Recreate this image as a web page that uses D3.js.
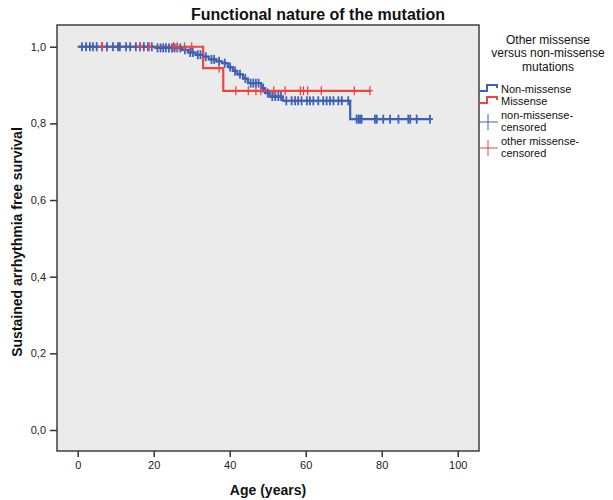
<!DOCTYPE html>
<html><head><meta charset="utf-8">
<script src="https://cdn.jsdelivr.net/npm/d3@7"></script>
<style>body{margin:0;background:#fff;} svg{display:block;font-family:Arial,"Liberation Sans",sans-serif;}</style>
</head><body>
<svg id="chart" width="613" height="500"></svg>
<script>
// ---- data ----
const xTicks = [0, 20, 40, 60, 80, 100];
const yTicks = [0, 0.2, 0.4, 0.6, 0.8, 1.0];
// Non-missense KM step curve: event ages and survival after each step
const blueAges = [0, 20.5, 27.5, 29, 31, 33, 34.5, 36.5, 38, 39.5, 40.8, 42, 43.5, 44.8, 48.3, 49.3, 50.5, 54, 71.7];
const blueSurv = [1.0, 0.997, 0.992, 0.985, 0.979, 0.974, 0.967, 0.962, 0.957, 0.947, 0.937, 0.928, 0.917, 0.905, 0.892, 0.879, 0.870, 0.859, 0.811];
const blueEnd = 92.7;
const blueCensored = [1.1, 2.2, 3.2, 4.0, 5.0, 6.4, 7.7, 9.3, 10.6, 11.1, 12.7, 13.8, 15.3, 16.4, 17.4, 18.5, 19.5,
  21, 21.8, 22.5, 23.2, 24, 24.8, 25.5, 26.2, 27, 28.2, 29.6, 30.3, 31.6, 32.3, 33.7, 35.2, 35.9, 37.2, 38.7, 40.1,
  41.4, 42.7, 44.1, 45.5, 46.2, 46.9, 47.6, 48.8, 50, 51.2, 52, 52.8, 53.5,
  54.9, 56.3, 57.2, 58, 58.9, 60.3, 61.1, 62, 63.3, 64.6, 65.5, 66.4, 67.3, 68.6, 69.5, 71.2,
  73.4, 73.9, 74.3, 74.7, 78.2, 78.7, 80.4, 82.2, 84.4, 87, 87.5, 89.2, 92.7];
// Missense
const redAges = [0, 33, 38.3];
const redSurv = [1.0, 0.944, 0.885];
const redEnd = 77;
const redCensored = [6.5, 16.4, 18.8, 25.2, 26.2, 28.1, 30, 37.2, 41.6, 44.9, 46.9, 48.2, 51.6, 54.6, 58.6, 59.4, 60.5, 64.1, 72.8, 76.9];

const legendTitle = ["Other missense", "versus non-missense", "mutations"];
const legendItems = [
  {type: "step", color: "#3d61b6", lines: ["Non-missense"]},
  {type: "step", color: "#ef4444", lines: ["Missense"]},
  {type: "plus", color: "#3d61b6", lines: ["non-missense-", "censored"]},
  {type: "plus", color: "#ef4444", lines: ["other missense-", "censored"]}
];

// ---- layout ----
const svg = d3.select("#chart");
const L = 57, R = 479, T = 25, B = 451;
const x = d3.scaleLinear().domain([-5.45, 105.6]).range([L, R]);
const y = d3.scaleLinear().domain([-0.0548, 1.0567]).range([B, T]);

svg.append("rect").attr("x", L).attr("y", T).attr("width", R - L).attr("height", B - T)
  .attr("fill", "#ebebeb").attr("stroke", "#3f3f3f").attr("stroke-width", 1.5);

// axes
const xAxis = d3.axisBottom(x).tickValues(xTicks).tickSize(6).tickSizeOuter(0).tickFormat(d3.format("d"));
const gx = svg.append("g").attr("transform", `translate(0,${B})`).call(xAxis);
gx.select(".domain").remove();
gx.selectAll(".tick line").attr("stroke", "#333").attr("stroke-width", 1.5);
gx.selectAll(".tick text").attr("font-size", 11).attr("fill", "#222").attr("font-family", "Arial, 'Liberation Sans', sans-serif").attr("dy", "0.85em");

const yAxis = d3.axisLeft(y).tickValues(yTicks).tickSize(7).tickSizeOuter(0).tickFormat(d => d3.format(".1f")(d).replace(".", ","));
const gy = svg.append("g").attr("transform", `translate(${L},0)`).call(yAxis);
gy.select(".domain").remove();
gy.selectAll(".tick line").attr("stroke", "#333").attr("stroke-width", 1.5);
gy.selectAll(".tick text").attr("font-size", 11).attr("fill", "#222").attr("font-family", "Arial, 'Liberation Sans', sans-serif").attr("dx", "-1");

// step curves
function stepPoints(ages, surv, end) {
  const pts = ages.map((a, i) => [a, surv[i]]);
  pts.push([end, surv[surv.length - 1]]);
  return pts;
}
function survAt(ages, surv, t) {
  let s = surv[0];
  for (let i = 0; i < ages.length; i++) if (ages[i] <= t) s = surv[i];
  return s;
}
const line = d3.line().x(d => x(d[0])).y(d => y(d[1])).curve(d3.curveStepAfter);
const blueColor = "#3d61b6", redColor = "#ef4444";

svg.append("path").datum(stepPoints(blueAges, blueSurv, blueEnd)).attr("d", line)
  .attr("fill", "none").attr("stroke", blueColor).attr("stroke-width", 2.2);
svg.append("path").datum(stepPoints(redAges, redSurv, redEnd)).attr("d", line)
  .attr("fill", "none").attr("stroke", redColor).attr("stroke-width", 2.2);

function censorMarks(ages, surv, list, color, w) {
  const g = svg.append("g").attr("stroke", color).attr("stroke-width", w);
  list.forEach(t => {
    const cx = x(t), cy = y(survAt(ages, surv, t));
    g.append("line").attr("x1", cx).attr("x2", cx).attr("y1", cy - 4.5).attr("y2", cy + 4.5);
    g.append("line").attr("x1", cx - 3).attr("x2", cx + 3).attr("y1", cy).attr("y2", cy);
  });
}
censorMarks(blueAges, blueSurv, blueCensored, blueColor, 1.8);
censorMarks(redAges, redSurv, redCensored, redColor, 1.3);

// titles
svg.append("text").attr("x", 318).attr("y", 20).attr("text-anchor", "middle")
  .attr("font-size", 16).attr("font-weight", "bold").attr("fill", "#111").text("Functional nature of the mutation");
svg.append("text").attr("x", (L + R) / 2).attr("y", 495).attr("text-anchor", "middle")
  .attr("font-size", 14).attr("font-weight", "bold").attr("fill", "#111").text("Age (years)");
svg.append("text").attr("transform", `translate(22,${(120 + 364) / 2}) rotate(-90)`).attr("text-anchor", "middle")
  .attr("font-size", 14).attr("font-weight", "bold").attr("fill", "#111").text("Sustained arrhythmia free survival");

// legend
const lg = svg.append("g");
legendTitle.forEach((t, i) => {
  lg.append("text").attr("x", 548).attr("y", 44 + i * 13.3).attr("text-anchor", "middle")
    .attr("font-size", 12).attr("fill", "#111").text(t);
});
const rowY = [89, 101, 115, 141];
legendItems.forEach((it, i) => {
  const yy = rowY[i];
  if (it.type === "step") {
    lg.append("path").attr("d", `M479,${yy + 2} H487 V${yy - 4} H497 V${yy - 1}`)
      .attr("fill", "none").attr("stroke", it.color).attr("stroke-width", 2);
  } else {
    const cy = yy + 7;
    lg.append("line").attr("x1", 479).attr("x2", 498).attr("y1", cy).attr("y2", cy).attr("stroke", it.color).attr("stroke-width", 1);
    lg.append("line").attr("x1", 488).attr("x2", 488).attr("y1", cy - 8).attr("y2", cy + 8).attr("stroke", it.color).attr("stroke-width", 1);
  }
  it.lines.forEach((t, j) => {
    lg.append("text").attr("x", 501).attr("y", yy + 4 + j * 11.5).attr("font-size", 11).attr("fill", "#111").text(t);
  });
});
</script>
</body></html>
